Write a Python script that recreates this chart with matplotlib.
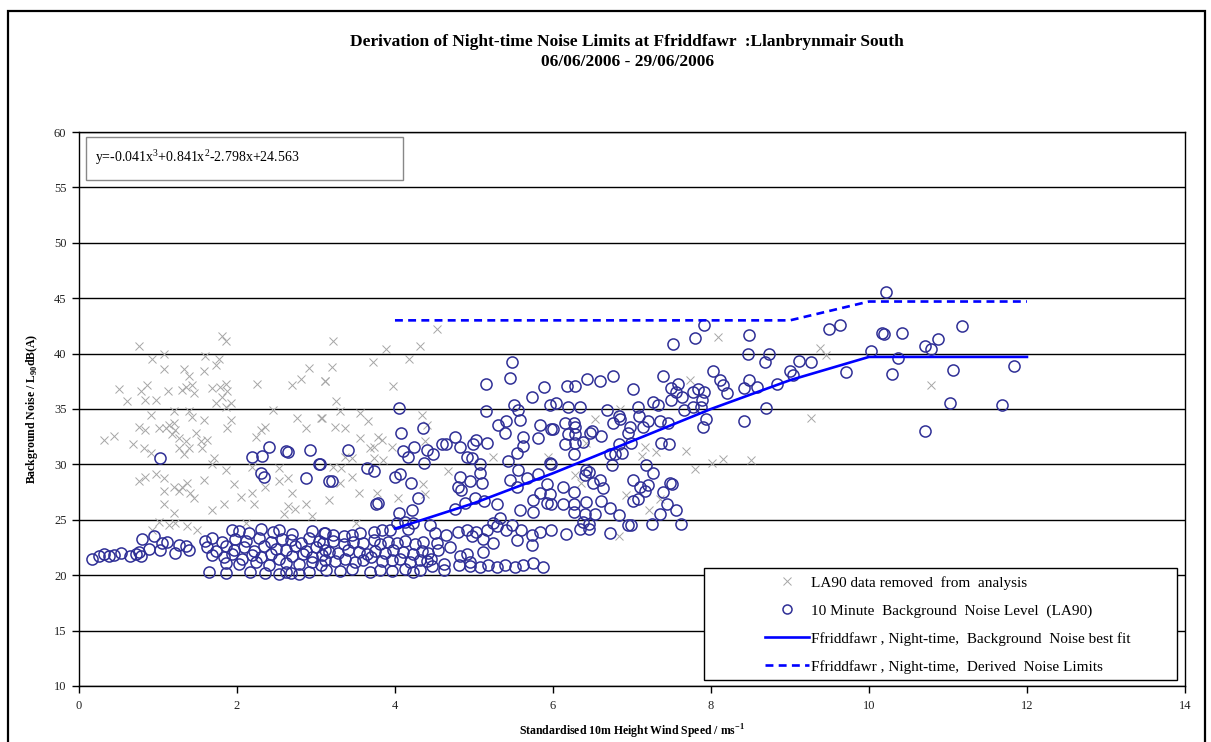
import matplotlib
matplotlib.use("Agg")
import matplotlib.pyplot as plt
from matplotlib.patches import Rectangle
from matplotlib.lines import Line2D

plt.rcParams['font.family'] = ['Liberation Serif', 'DejaVu Serif']
plt.rcParams['mathtext.fontset'] = 'custom'
plt.rcParams['mathtext.rm'] = 'Liberation Serif'
plt.rcParams['mathtext.bf'] = 'Liberation Serif:bold'

# 10 minute background noise level (LA90) used in the analysis
circ = [
    # low wind speeds
    (0.17, 21.5), (0.25, 21.7), (0.32, 21.9), (0.38, 21.7), (0.44, 21.8), (0.53, 22.0),
    (0.65, 21.7), (0.72, 21.9), (0.76, 22.1), (0.78, 21.7), (0.80, 23.3), (0.89, 22.4),
    (0.95, 23.5), (1.03, 22.3), (1.05, 22.9), (1.12, 23.0), (1.22, 22.0), (1.27, 22.7),
    (1.35, 22.6), (1.39, 22.3), (1.03, 30.6),
    # 1.6 - 3.2 m/s
    (1.94, 24.1), (2.03, 24.0), (2.15, 23.8), (2.30, 24.2), (2.45, 23.9), (2.53, 24.1),
    (2.70, 23.7), (2.95, 24.0), (3.10, 23.8),
    (1.60, 23.1), (1.69, 23.4), (1.81, 23.0), (1.98, 23.3), (2.11, 23.1), (2.28, 23.4),
    (2.43, 23.0), (2.57, 23.3), (2.68, 23.2), (2.81, 22.9), (2.91, 23.4), (3.04, 23.1),
    (1.62, 22.5), (1.73, 22.2), (1.86, 22.6), (1.96, 22.3), (2.09, 22.5), (2.22, 22.2),
    (2.34, 22.6), (2.49, 22.4), (2.62, 22.3), (2.74, 22.6), (2.87, 22.2), (3.00, 22.5),
    (3.12, 22.3),
    (1.69, 21.8), (1.84, 21.6), (1.94, 21.9), (2.07, 21.5), (2.19, 21.8), (2.30, 21.6),
    (2.43, 21.9), (2.53, 21.5), (2.70, 21.7), (2.83, 21.9), (2.95, 21.6), (3.08, 21.8),
    (1.86, 21.1), (2.03, 21.0), (2.24, 21.2), (2.41, 20.9), (2.62, 21.1), (2.78, 21.0),
    (2.95, 21.2), (3.06, 20.9),
    (1.65, 20.3), (1.86, 20.2), (2.17, 20.3), (2.36, 20.2), (2.53, 20.1), (2.62, 20.3),
    (2.68, 20.2), (2.78, 20.1), (2.91, 20.3),
    (2.19, 30.7), (2.32, 30.8), (2.41, 31.6), (2.62, 31.2), (2.65, 31.1), (2.92, 31.3),
    (3.04, 30.0), (2.30, 29.2), (2.34, 28.9), (2.87, 28.8), (3.16, 28.5),
    # 3.1 - 4.5 m/s
    (4.13, 24.8), (4.23, 24.7), (4.17, 24.2), (4.02, 24.7), (3.94, 24.1), (3.83, 24.1),
    (3.73, 23.9), (3.56, 23.8), (3.45, 23.6), (3.35, 23.5), (3.22, 23.6), (3.11, 23.8),
    (3.09, 22.9), (3.22, 23.1), (3.35, 22.8), (3.47, 23.0), (3.60, 22.9), (3.73, 23.2),
    (3.81, 22.8), (3.91, 23.0), (4.02, 22.9), (4.13, 23.1), (4.25, 22.8), (4.36, 23.0),
    (3.16, 22.1), (3.28, 22.0), (3.41, 22.3), (3.54, 22.1), (3.64, 21.9), (3.75, 22.2),
    (3.87, 22.0), (3.98, 22.3), (4.10, 22.1), (4.23, 21.9), (4.34, 22.2), (4.42, 22.0),
    (3.11, 21.4), (3.24, 21.3), (3.37, 21.5), (3.49, 21.2), (3.60, 21.4), (3.70, 21.6),
    (3.83, 21.3), (3.96, 21.4), (4.06, 21.5), (4.19, 21.2), (4.32, 21.4), (4.40, 21.3),
    (3.13, 20.5), (3.30, 20.4), (3.45, 20.6), (3.68, 20.3), (3.81, 20.5), (3.96, 20.4),
    (4.13, 20.6), (4.23, 20.3), (4.32, 20.5),
    (3.41, 31.3), (3.73, 29.4), (3.64, 29.7), (3.20, 28.5), (3.05, 30.0), (3.78, 26.5),
    (3.76, 26.4), (4.00, 28.9), (4.06, 29.1), (4.20, 28.3), (4.29, 27.0), (4.22, 25.9),
    (4.05, 25.6), (4.05, 35.1), (4.36, 33.3), (4.08, 32.8), (4.10, 31.2), (4.17, 30.7),
    (4.24, 31.6), (4.37, 30.1), (4.40, 31.3),
    # 4.4 - 6.0 m/s
    (5.48, 39.2), (5.45, 37.8), (5.15, 37.3), (5.15, 34.8), (4.48, 30.9), (4.59, 31.8),
    (4.65, 31.8), (4.76, 32.5), (4.82, 31.6), (4.91, 30.7), (4.99, 31.8), (5.03, 32.2),
    (4.97, 30.6), (5.08, 30.0), (5.08, 29.2), (5.10, 28.3), (4.95, 28.5), (4.82, 28.9),
    (4.80, 28.0), (4.84, 27.7), (5.16, 31.9), (5.31, 33.6), (5.40, 33.9), (5.39, 32.8),
    (5.51, 35.4), (5.56, 34.9), (5.58, 34.0), (5.62, 32.5), (5.62, 31.7), (5.54, 31.0),
    (5.43, 30.3), (5.46, 28.6), (5.56, 29.5), (5.67, 28.8), (5.54, 28.0), (5.73, 36.1),
    (5.89, 37.0), (5.96, 35.4), (5.83, 33.6), (5.98, 33.2), (5.81, 32.4), (5.97, 30.0),
    (5.81, 29.1), (5.92, 28.2), (5.83, 27.4), (5.96, 27.3), (5.75, 26.8), (5.92, 26.5),
    (5.58, 25.9), (5.75, 25.7), (4.76, 26.0), (4.89, 26.5), (5.01, 27.0), (5.13, 26.7),
    (5.29, 26.4), (5.33, 25.2), (5.48, 24.5), (5.24, 24.7), (5.60, 24.1), (5.73, 23.6),
    (5.83, 23.9), (5.16, 24.1), (5.03, 23.9), (4.91, 24.1), (4.80, 23.9), (4.97, 23.5),
    (5.12, 23.3), (5.24, 22.9), (5.12, 22.1), (4.91, 21.9), (4.82, 21.7), (4.95, 21.2),
    (4.81, 20.9), (4.95, 20.8), (5.08, 20.7), (5.18, 20.9), (5.29, 20.7), (5.39, 20.9),
    (5.52, 20.7), (5.62, 20.9), (5.75, 21.1), (5.87, 20.7), (4.62, 20.5), (5.54, 23.2),
    (5.41, 24.1), (5.29, 24.4), (5.73, 22.7), (4.44, 24.5), (4.51, 23.8), (4.65, 23.6),
    (4.53, 22.9), (4.45, 21.5), (4.55, 22.3), (4.62, 21.0), (4.70, 22.5), (4.47, 20.8),
    # 6.0 - 9.1 m/s
    (7.91, 42.6), (7.80, 41.4), (7.52, 40.9), (8.48, 41.7), (8.47, 40.0), (8.74, 40.0),
    (8.68, 39.2), (9.00, 38.4), (9.04, 38.1), (9.12, 39.3), (8.03, 38.4), (8.11, 37.6),
    (8.15, 37.2), (8.20, 36.4), (7.39, 38.0), (7.58, 37.3), (7.49, 36.9), (7.56, 36.5),
    (7.63, 36.1), (7.50, 35.8), (7.77, 36.5), (7.84, 36.8), (7.91, 36.5), (7.89, 35.8),
    (7.77, 35.2), (7.87, 35.2), (7.66, 34.9), (7.94, 34.1), (7.90, 33.4), (8.42, 36.9),
    (8.48, 37.6), (8.58, 37.0), (8.83, 37.3), (8.70, 35.1), (8.42, 33.9), (7.01, 36.8),
    (6.76, 38.0), (6.59, 37.5), (6.43, 37.7), (6.28, 37.1), (6.18, 37.1), (7.27, 35.6),
    (7.33, 35.4), (7.08, 35.2), (7.09, 34.4), (7.20, 33.9), (7.35, 33.9), (7.46, 33.7),
    (6.97, 33.4), (7.14, 33.4), (6.95, 32.8), (6.83, 34.4), (6.85, 34.1), (6.76, 33.7),
    (6.68, 34.9), (6.04, 35.5), (6.19, 35.2), (6.34, 35.2), (6.15, 33.7), (6.26, 33.7),
    (6.28, 33.4), (6.00, 33.2), (6.19, 32.7), (6.28, 32.7), (6.47, 32.8), (6.50, 33.0),
    (6.61, 32.6), (6.38, 32.0), (6.28, 31.9), (6.15, 31.8), (6.26, 30.9), (5.96, 30.1),
    (6.83, 31.8), (6.99, 31.9), (6.72, 30.9), (6.78, 30.9), (6.88, 31.0), (7.37, 31.9),
    (7.47, 31.8), (6.75, 29.9), (6.42, 29.5), (6.45, 29.3), (6.40, 29.0), (6.51, 28.3),
    (6.59, 28.6), (6.63, 27.9), (6.13, 28.0), (6.26, 27.5), (7.18, 29.9), (7.26, 29.2),
    (7.01, 28.6), (7.10, 28.0), (7.20, 28.1), (7.16, 27.6), (7.48, 28.3), (7.51, 28.2),
    (7.39, 27.5), (7.01, 26.7), (7.08, 26.9), (6.61, 26.7), (6.42, 26.6), (6.26, 26.4),
    (6.13, 26.4), (5.98, 26.4), (6.26, 25.7), (6.40, 25.5), (6.53, 25.5), (6.72, 26.1),
    (6.83, 25.4), (7.44, 26.4), (7.56, 25.9), (7.35, 25.5), (6.38, 24.8), (6.45, 24.6),
    (6.34, 24.2), (6.45, 24.2), (6.17, 23.7), (5.98, 24.1), (6.72, 23.8), (6.95, 24.5),
    (6.99, 24.5), (7.25, 24.6), (7.62, 24.6),
    # above 9 m/s
    (10.21, 45.6), (9.50, 42.2), (9.63, 42.6), (10.17, 41.9), (10.19, 41.8), (10.42, 41.9),
    (11.18, 42.5), (10.87, 41.3), (10.71, 40.7), (10.79, 40.4), (10.02, 40.2), (10.37, 39.6),
    (9.26, 39.2), (9.71, 38.3), (10.29, 38.2), (11.06, 38.5), (11.83, 38.9), (11.03, 35.5),
    (11.69, 35.4), (10.71, 33.0),
]

# LA90 data removed from analysis
removed = [
    (0.76, 40.7), (0.93, 39.5), (1.08, 40.0), (1.08, 38.6), (0.51, 36.8), (0.61, 35.7),
    (0.78, 36.6), (0.86, 37.2), (0.84, 35.8), (0.97, 35.8), (0.91, 34.5), (1.13, 36.6),
    (1.33, 38.6), (1.39, 38.0), (1.35, 37.0), (1.43, 37.2), (1.46, 36.4), (1.31, 36.7),
    (1.58, 38.4), (1.60, 39.8), (1.73, 39.0), (1.77, 39.5), (1.81, 41.6), (1.86, 41.1),
    (1.69, 36.9), (1.79, 37.0), (1.86, 37.3), (1.88, 36.6), (1.81, 36.1), (1.73, 35.5),
    (1.92, 35.5), (1.86, 35.2), (0.32, 32.2), (0.44, 32.6), (0.68, 31.8), (0.76, 33.4),
    (0.84, 33.1), (0.82, 31.5), (0.91, 31.0), (1.01, 33.3), (1.10, 33.3), (1.14, 33.6),
    (1.20, 33.7), (1.22, 33.1), (1.18, 32.7), (1.27, 32.4), (1.35, 32.1), (1.27, 31.5),
    (1.39, 31.5), (1.33, 30.9), (1.43, 34.3), (1.39, 34.8), (1.20, 34.8), (1.48, 32.8),
    (1.54, 32.1), (1.62, 32.2), (1.56, 31.5), (1.71, 30.6), (1.58, 34.0), (1.92, 34.0),
    (1.88, 33.3), (0.76, 28.5), (0.84, 28.9), (0.97, 29.1), (1.08, 28.8), (1.08, 27.6),
    (1.08, 26.4), (1.20, 28.0), (1.27, 27.6), (1.31, 28.0), (1.37, 28.3), (1.41, 27.4),
    (1.46, 27.0), (1.20, 25.6), (1.22, 24.7), (1.58, 28.6), (1.69, 30.0), (1.69, 25.9),
    (1.84, 26.4), (1.86, 29.5), (1.96, 28.2), (2.05, 27.1), (2.19, 27.4), (2.22, 26.4),
    (2.19, 29.8), (2.26, 37.3), (2.45, 34.9), (2.36, 33.4), (2.30, 33.1), (2.24, 32.5),
    (2.70, 37.2), (2.81, 37.7), (2.91, 38.7), (3.12, 37.5), (2.76, 34.2), (3.08, 34.2),
    (2.87, 33.3), (2.53, 28.5), (2.64, 28.8), (2.70, 27.4), (2.64, 26.2), (2.74, 26.0),
    (2.87, 26.4), (2.53, 29.7), (2.36, 28.0), (1.01, 24.8), (0.93, 24.1), (1.14, 24.5),
    (1.37, 24.4), (1.50, 24.1), (2.11, 24.7), (2.59, 25.5), (2.95, 25.3),
    (3.22, 41.1), (3.89, 40.4), (4.32, 40.7), (3.20, 38.8), (3.72, 39.2), (4.18, 39.5),
    (3.11, 37.5), (3.98, 37.1), (4.53, 42.2), (3.26, 35.7), (3.30, 34.8), (3.07, 34.2),
    (3.56, 34.6), (3.66, 33.9), (3.24, 33.4), (3.37, 33.3), (3.56, 32.4), (3.79, 32.5),
    (3.83, 32.2), (3.96, 31.6), (3.73, 31.6), (3.68, 31.5), (3.37, 30.7), (3.45, 30.6),
    (3.73, 30.6), (3.85, 30.4), (4.34, 34.5), (4.40, 33.6), (4.38, 32.1), (3.22, 29.8),
    (3.32, 29.7), (3.45, 28.9), (3.30, 28.3), (3.54, 27.4), (3.77, 27.4), (3.16, 26.8),
    (4.04, 27.0), (4.36, 28.2), (4.38, 27.3), (4.67, 29.4), (5.24, 30.7), (5.94, 30.7),
    (3.51, 24.7),
    (8.09, 41.5), (7.73, 37.6), (6.85, 35.0), (6.53, 34.1), (6.42, 31.9), (7.16, 31.6),
    (7.13, 30.8), (7.31, 31.1), (7.69, 31.2), (7.80, 29.6), (8.01, 30.1), (8.15, 30.5),
    (8.51, 30.4), (6.28, 29.0), (6.36, 28.3), (6.93, 27.2), (7.22, 25.9), (7.35, 26.9),
    (6.83, 23.5), (9.38, 40.5), (9.45, 39.9), (10.78, 37.2), (9.26, 34.2),
]

# best fit and derived limits at integer wind speeds
wind = [4, 5, 6, 7, 8, 9, 10, 11, 12]
best_fit = [24.2, 26.5, 29.2, 32.1, 35.0, 37.6, 39.7, 39.7, 39.7]
limits = [43.0, 43.0, 43.0, 43.0, 43.0, 43.0, 44.7, 44.7, 44.7]

fig = plt.figure(figsize=(12.11, 7.42), dpi=100)
ax = fig.add_axes([0.0652, 0.0755, 0.9133, 0.7466])

cx = [p[0] for p in circ]
cy = [p[1] for p in circ]
rx = [p[0] for p in removed]
ry = [p[1] for p in removed]

cross_col = '#a6a6a6'
circ_col = '#2f2f96'
ax.plot(rx, ry, 'x', color=cross_col, ms=5.5, mew=0.7, zorder=2)
ax.plot(cx, cy, 'o', mfc='none', mec=circ_col, ms=8, mew=1.1, zorder=3)
ax.plot(wind, best_fit, '-', color='#0000ff', lw=1.9, zorder=3.5)
ax.plot(wind, limits, '--', color='#0000ff', lw=1.9, dashes=(3, 2), zorder=3.5)

ax.set_xlim(0, 14)
ax.set_ylim(10, 60)
ax.set_xticks(range(0, 15, 2))
ax.set_yticks(range(10, 61, 5))
ax.yaxis.grid(True, color='black', lw=1)
ax.set_axisbelow(True)
for s in ax.spines.values():
    s.set_color('black')
    s.set_linewidth(1)
ax.tick_params(axis='both', direction='out', length=5, width=1, labelsize=9,
               labelcolor='#222222', top=False, right=False)
ax.tick_params(axis='y', pad=4)
ax.tick_params(axis='x', pad=5)

ax.set_xlabel(r'Standardised 10m Height Wind Speed / ms$^{\mathbf{-1}}$',
              fontsize=8.5, fontweight='bold', labelpad=8)
ax.set_ylabel(r'Background Noise / L$_{\mathbf{90}}$dB(A)',
              fontsize=8.5, fontweight='bold', labelpad=10)

fig.text(0.518, 0.944, 'Derivation of Night-time Noise Limits at Ffriddfawr  :Llanbrynmair South',
         ha='center', va='center', fontsize=12.5, fontweight='bold')
fig.text(0.518, 0.917, '06/06/2006 - 29/06/2006',
         ha='center', va='center', fontsize=12.5, fontweight='bold')

# trend equation box
ax.add_patch(Rectangle((0.0063, 0.913), 0.287, 0.078, transform=ax.transAxes,
                       fc='white', ec='#888888', lw=1, zorder=4))
ax.text(0.0145, 0.955, r'y=-0.041x$^3$+0.841x$^2$-2.798x+24.563', transform=ax.transAxes,
        fontsize=10, va='center', zorder=5)

# legend frame and entries
ax.add_patch(Rectangle((704 / 1211, 1 - 680 / 742), 473 / 1211, 112 / 742,
                       transform=fig.transFigure, fc='white', ec='black', lw=1,
                       clip_on=False, zorder=4))
handles = [
    Line2D([], [], ls='none', marker='x', color=cross_col, ms=5.5, mew=0.7),
    Line2D([], [], ls='none', marker='o', mfc='none', mec=circ_col, ms=6.5, mew=1.1),
    Line2D([], [], ls='-', color='#0000ff', lw=1.9),
    Line2D([], [], ls='--', color='#0000ff', lw=1.9, dashes=(3, 2)),
]
labels = [
    'LA90 data removed  from  analysis',
    '10 Minute  Background  Noise Level  (LA90)',
    'Ffriddfawr , Night-time,  Background  Noise best fit',
    'Ffriddfawr , Night-time,  Derived  Noise Limits',
]
leg = ax.legend(handles, labels, loc='upper left', bbox_to_anchor=(752 / 1211, 1 - 563 / 742),
                bbox_transform=fig.transFigure, frameon=False, fontsize=11,
                handlelength=2.9, handletextpad=0.1, labelspacing=0.93, borderpad=0.35)
leg.set_zorder(5)

# chart area border
fig.add_artist(Rectangle((8 / 1211, -0.02), 1197 / 1211, 1 - 11 / 742 + 0.02,
                         transform=fig.transFigure, fill=False, ec='black', lw=1.6))

fig.savefig('out.png', dpi=100)
